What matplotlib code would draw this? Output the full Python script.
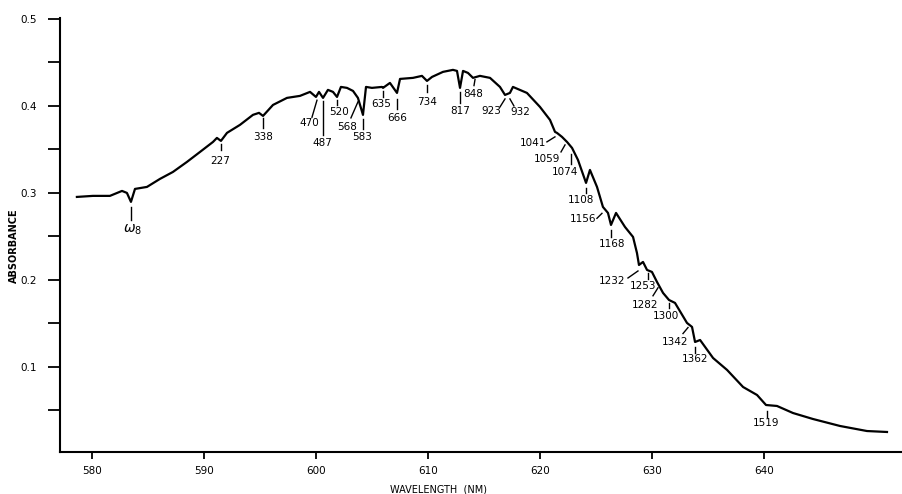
import numpy as np
import matplotlib
matplotlib.use('Agg')
import matplotlib.pyplot as plt
from matplotlib.ticker import MultipleLocator, FixedLocator

# spectrum
wavelength = [578.61, 580.04, 581.56, 582.64, 583.08, 583.44, 583.80, 584.87, 586.03, 587.19,
              588.44, 589.61, 590.77, 591.12, 591.48, 592.02, 593.18, 594.34, 594.88, 595.24,
              596.13, 597.38, 598.54, 599.44, 599.97, 600.24, 600.60, 601.04, 601.49, 601.85,
              602.20, 602.74, 603.28, 603.72, 604.17, 604.44, 604.97, 605.87, 605.96, 606.58,
              607.21, 607.48, 608.64, 609.44, 609.89, 610.34, 611.32, 612.21, 612.57, 612.84,
              613.11, 613.55, 614.00, 614.62, 615.52, 616.41, 616.86, 617.30, 617.57, 618.82,
              619.98, 620.88, 621.33, 621.50, 621.95, 622.40, 622.85, 623.38, 624.10, 624.45,
              625.08, 625.61, 626.06, 626.33, 626.78, 627.58, 628.30, 628.65, 628.83, 629.19,
              629.55, 629.99, 630.44, 630.98, 631.51, 632.05, 633.12, 633.57, 633.84, 634.29,
              635.45, 636.70, 638.13, 639.38, 640.18, 641.16, 642.59, 644.38, 646.79, 649.20,
              650.99]
absorbance = [0.2954, 0.2966, 0.2966, 0.3023, 0.3000, 0.2897, 0.3046, 0.3069, 0.3161, 0.3241,
              0.3356, 0.3471, 0.3586, 0.3632, 0.3598, 0.3690, 0.3782, 0.3897, 0.3920, 0.3885,
              0.4011, 0.4092, 0.4115, 0.4161, 0.4103, 0.4161, 0.4092, 0.4184, 0.4161, 0.4103,
              0.4218, 0.4207, 0.4172, 0.4092, 0.3897, 0.4218, 0.4207, 0.4218, 0.4207, 0.4264,
              0.4149, 0.4310, 0.4322, 0.4345, 0.4287, 0.4333, 0.4391, 0.4414, 0.4402, 0.4207,
              0.4402, 0.4379, 0.4322, 0.4345, 0.4322, 0.4218, 0.4126, 0.4149, 0.4218, 0.4149,
              0.3989, 0.3839, 0.3701, 0.3690, 0.3644, 0.3586, 0.3517, 0.3379, 0.3115, 0.3264,
              0.3069, 0.2839, 0.2770, 0.2632, 0.2770, 0.2609, 0.2494, 0.2310, 0.2172, 0.2207,
              0.2115, 0.2092, 0.1977, 0.1851, 0.1770, 0.1736, 0.1506, 0.1460, 0.1287, 0.1310,
              0.1103, 0.0966, 0.0770, 0.0678, 0.0563, 0.0552, 0.0471, 0.0402, 0.0322, 0.0264,
              0.0253]

# band labels and where they sit on the spectrum (nm)
band_labels = [r'$\omega_8$', '227', '338', '470', '487', '520', '568', '583', '635', '666',
               '734', '817', '848', '923', '932', '1041', '1059', '1074', '1108', '1156',
               '1168', '1232', '1253', '1282', '1300', '1342', '1362', '1519']
band_wl = [583.44, 591.48, 595.24, 600.06, 600.60, 601.85, 603.72, 604.17, 605.96, 607.21,
           609.89, 612.84, 614.09, 616.86, 617.30, 621.50, 622.40, 622.85, 624.10, 625.79,
           626.33, 628.83, 629.64, 630.53, 631.51, 633.30, 633.84, 640.27]

# leader line (x1, y1, x2, y2) and text centre (tx, ty), pixel offsets from the band, y down
leaders = [(0, 5, 0, 18), (0, 3, 0, 9), (0, 2, 0, 12), (0, 5, -5, 22), (0, 3, 0, 37),
           (0, 3, 0, 8), (0, 4, -7, 20), (0, 4, 0, 14), (0, 3, 0, 9), (0, 6, 0, 16),
           (0, 4, 0, 11), (0, 4, 0, 15), (1, 2, 0, 8), (0, 4, -5, 12), (0, 6, 4, 13),
           (-2, 4, -10, 9), (-2, 3, -6, 10), (-1, 6, -1, 16), (0, 5, 0, 10), (-3, 4, -8, 9),
           (0, 5, 0, 12), (-1, 6, -11, 13), (0, 3, 0, 9), (0, 4, -5, 12), (0, 3, 0, 8),
           (-1, 3, -6, 9), (0, 5, 0, 11), (0, 6, 0, 12)]
text_off = [(2, 28), (-1, 20), (0, 21), (-8, 28), (-1, 45), (2, 15), (-11, 29), (-1, 22),
            (-2, 16), (0, 25), (0, 21), (0, 23), (-1, 16), (-14, 16), (10, 19), (-24, 10),
            (-20, 17), (-7, 24), (-5, 17), (-22, 10), (1, 19), (-27, 16), (-5, 16), (-13, 21),
            (-3, 16), (-14, 17), (0, 17), (-1, 18)]

fig = plt.figure(figsize=(9.03, 4.94), dpi=100)
ax = fig.add_axes([60/903, 1 - 452/494, 843/903, 434/494])

ax.plot(wavelength, absorbance, color='black', lw=1.6)

ax.set_xlim(577.10, 652.42)
ax.set_ylim(0.0023, 0.501)
ax.spines['top'].set_visible(False)
ax.spines['right'].set_visible(False)
ax.spines['left'].set_linewidth(1.5)
ax.spines['bottom'].set_linewidth(1.5)

ax.xaxis.set_major_locator(FixedLocator([580, 590, 600, 610, 620, 630, 640]))
ax.yaxis.set_major_locator(FixedLocator([0.1, 0.2, 0.3, 0.4, 0.5]))
ax.yaxis.set_minor_locator(FixedLocator([0.05, 0.15, 0.25, 0.35, 0.45]))
ax.set_yticklabels(['0.1', '0.2', '0.3', '0.4', '0.5'])
ax.tick_params(axis='y', which='both', direction='out', length=9, width=1.3, pad=8,
               labelsize=7.5)
ax.tick_params(axis='x', direction='out', length=5, width=1.3, pad=5, labelsize=7.5)

# band annotations
inv = ax.transData.inverted()
for lab, w, ld, to in zip(band_labels, band_wl, leaders, text_off):
    a = np.interp(w, wavelength, absorbance)
    px, py = ax.transData.transform((w, a))
    p1 = inv.transform((px + ld[0], py - ld[1]))
    p2 = inv.transform((px + ld[2], py - ld[3]))
    ax.plot([p1[0], p2[0]], [p1[1], p2[1]], color='black', lw=1.0)
    pt = inv.transform((px + to[0], py - to[1]))
    ax.text(pt[0], pt[1], lab, fontsize=7.5 if lab.startswith('$') is False else 10,
            ha='center', va='center')

fig.text(14/903, 1 - 246/494, 'ABSORBANCE', rotation=90, fontsize=7, fontweight='bold',
         ha='center', va='center')
fig.text(439/903, 1 - 489/494, 'WAVELENGTH  (NM)', fontsize=7, ha='center', va='center')

fig.savefig('out.png', dpi=100)
